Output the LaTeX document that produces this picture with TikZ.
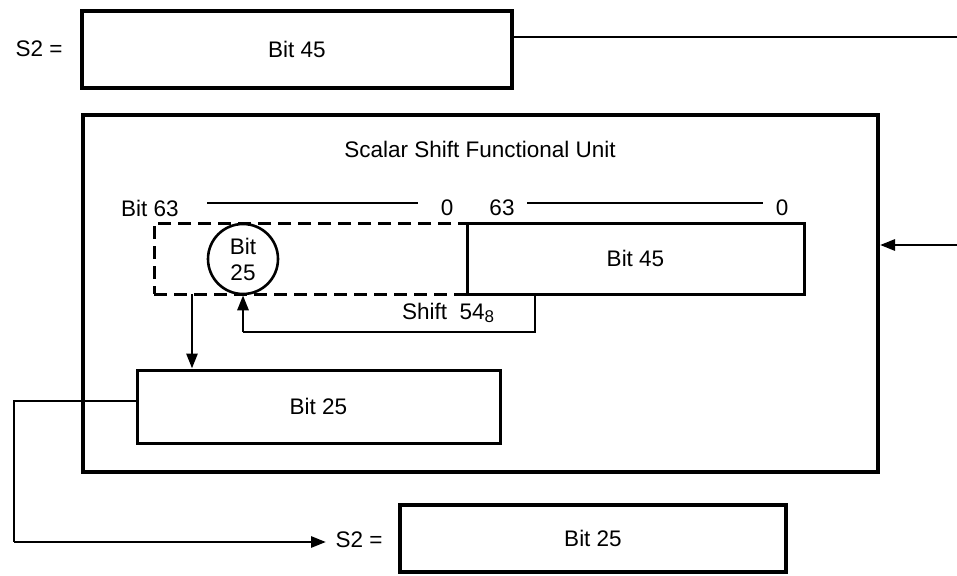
\documentclass[tikz,border=0pt]{standalone}
\usepackage{fontspec}
\setmainfont{Liberation Sans}
\usetikzlibrary{arrows.meta}
\begin{document}
\begin{tikzpicture}[x=1pt,y=-1pt,
  thickbox/.style={draw,line width=4pt,inner sep=0pt},
  regbox/.style={draw,line width=3pt,inner sep=0pt},
  wire/.style={line width=2.8pt},
  lbl/.style={font=\fontsize{22.5}{26}\selectfont,inner sep=0pt},
  tip/.style={-{Triangle[length=15pt,width=11pt]}}]
\useasboundingbox (0,0) rectangle (957,575);
% top register
\node[thickbox,minimum width=430pt,minimum height=77pt] (top) at (297,49.5) {};
\node[lbl] (toptext) at (top.center) {Bit 45};
\node[lbl] (s2top) at (39,49) {S2 =};
\coordinate (topR) at (512,37);
\coordinate (edgeTop) at (957,37);
\draw[wire] (top.east |- topR) -- (edgeTop);
% unit
\node[thickbox,minimum width=795pt,minimum height=357pt] (unit) at (480.5,293.5) {};
\node[lbl] (title) at (480,149) {Scalar Shift Functional Unit};
\coordinate (edgeIn) at (957,245);
\draw[wire,tip] (edgeIn) -- (unit.east |- edgeIn);
% bit labels
\node[lbl] (b63) at (150,208) {Bit 63};
\node[lbl] (z1) at (447,208) {0};
\node[lbl] (n63) at (502,208) {63};
\node[lbl] (z2) at (782,208) {0};
\coordinate (l1a) at (207,203);
\coordinate (l1b) at (418,203);
\coordinate (l2a) at (527,203);
\coordinate (l2b) at (763,203);
\draw[wire] (l1a) -- (l1b);
\draw[wire] (l2a) -- (l2b);
% dashed register and right register
\node[draw,line width=3pt,dash pattern=on 13pt off 7pt,minimum width=313pt,minimum height=71pt,inner sep=0pt] (dash) at (310.5,258.5) {};
\node[regbox,minimum width=337pt,minimum height=71pt] (right) at (635.5,258.5) {};
\node[lbl] (righttext) at (right.center) {Bit 45};
\node[circle,draw,line width=2.6pt,minimum size=70pt,inner sep=0pt,align=center,font=\fontsize{22.5}{26}\selectfont] (circ) at (243,259) {Bit\\25};
% shift path
\coordinate (sh1) at (535,294);
\coordinate (sh2) at (535,332);
\coordinate (sh3) at (243,332);
\draw[wire] (sh1) -- (sh2) -- (sh3);
\draw[wire,tip] (sh3) -- (circ.south);
\node[lbl] (shift) at (448,313) {Shift\ \ 54\raisebox{-0.3ex}{\fontsize{17}{20}\selectfont 8}};
% result inside unit
\node[regbox,minimum width=363pt,minimum height=73pt] (res) at (318.5,406.5) {};
\node[lbl] (restext) at (res.center) {Bit 25};
\coordinate (dn) at (192,294);
\draw[wire,tip] (dn) -- (dn |- res.north);
% output path
\coordinate (o1) at (14,401);
\coordinate (o2) at (14,542);
\coordinate (o3) at (326,542);
\draw[wire] (res.west |- o1) -- (o1) -- (o2);
\draw[wire,tip] (o2) -- (o3);
\node[lbl] (s2bot) at (359,540) {S2 =};
\node[thickbox,minimum width=386pt,minimum height=67pt] (bot) at (593,538.5) {};
\node[lbl] (bottext) at (bot.center) {Bit 25};
\end{tikzpicture}
\end{document}
